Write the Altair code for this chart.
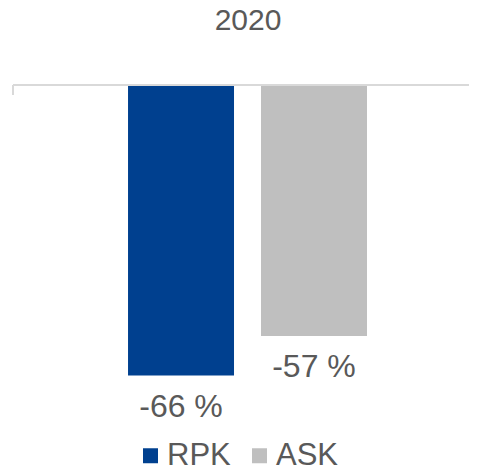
import altair as alt
import pandas as pd

series = ["RPK", "ASK"]
values = [-66, -57]
labels = ["-66 %", "-57 %"]
colors = ["#00408F", "#BFBFBF"]
title_text = "2020"

df = pd.DataFrame({"series": series, "value": values, "label": labels})

W, H = 456, 351
FONT = "Liberation Sans"
TXT = "#595959"

xscale = alt.Scale(domain=series, paddingInner=0.203, paddingOuter=0.816, align=0.53)
yscale = alt.Scale(domain=[-80, 0], nice=False)

base = alt.Chart(df)

bars = base.mark_bar().encode(
    x=alt.X("series:N", scale=xscale, axis=None, sort=series),
    y=alt.Y("value:Q", scale=yscale, axis=None),
    color=alt.Color(
        "series:N",
        scale=alt.Scale(domain=series, range=colors),
        legend=alt.Legend(
            title=None, orient="none", legendX=122, legendY=354, direction="horizontal",
            symbolType="square", symbolSize=225, symbolStrokeWidth=0,
            labelFontSize=31, labelFont=FONT, labelColor=TXT, labelOffset=1,
            columnPadding=13, padding=0,
        ),
    ),
)

text = base.mark_text(baseline="alphabetic", dy=41, fontSize=32, font=FONT, color=TXT).encode(
    x=alt.X("series:N", scale=xscale, axis=None, sort=series),
    y=alt.Y("value:Q", scale=yscale, axis=None),
    text="label:N",
)

baseline = base.mark_rule(color="#D9D9D9", strokeWidth=2).encode(
    x=alt.value(0), x2=alt.value(W), y=alt.value(-1)
)
tick = base.mark_rule(color="#D9D9D9", strokeWidth=2).encode(
    x=alt.value(0), y=alt.value(-1), y2=alt.value(9)
)

chart = alt.layer(baseline, tick, bars, text).properties(
    width=W, height=H,
    title=alt.TitleParams(title_text, fontSize=30, font=FONT, color=TXT, fontWeight="normal",
                          anchor="middle", dx=7, offset=48),
    autosize=alt.AutoSizeParams(type="none"),
    padding={"left": 5, "top": 78, "right": 0, "bottom": 28},
).configure_view(stroke=None)

chart.save("out.html", embed_options={"renderer": "svg", "actions": False})
